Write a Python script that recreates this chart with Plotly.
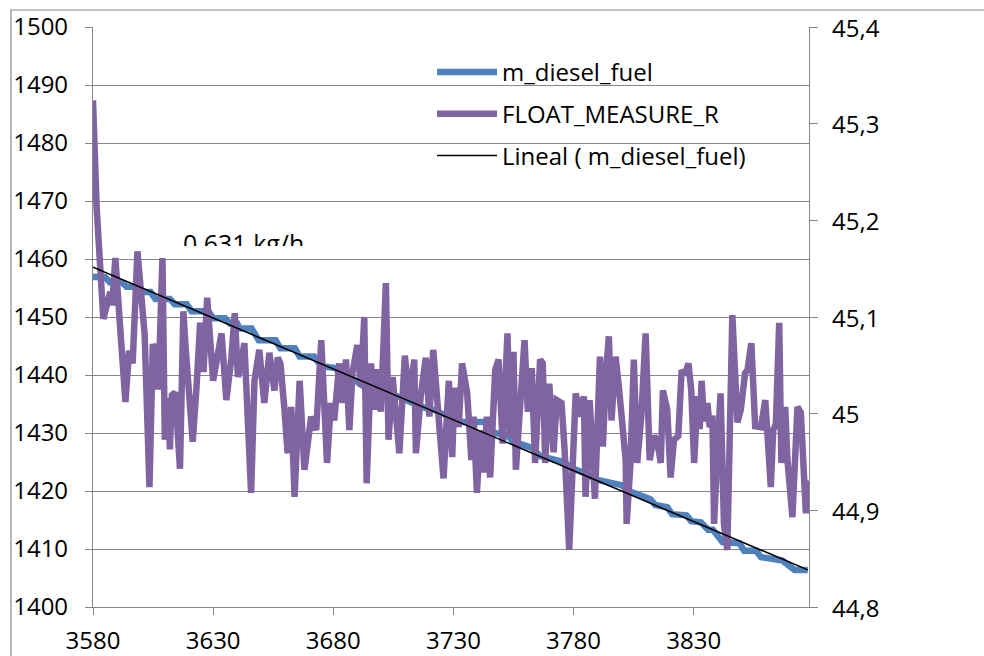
import plotly.graph_objects as go

# ---- data ----
diesel_x = [3580, 3585, 3587, 3592, 3594, 3598, 3600, 3604, 3606, 3612, 3614, 3619,
            3621, 3628, 3630, 3635, 3637, 3640, 3641, 3646, 3649, 3656, 3658, 3664,
            3666, 3672, 3675, 3681, 3683, 3689, 3692, 3698, 3705, 3710, 3713, 3719,
            3722, 3727, 3734, 3744, 3747, 3752, 3755, 3763, 3766, 3776, 3779, 3786,
            3789, 3800, 3803, 3812, 3814, 3819, 3821, 3827, 3829, 3833, 3836, 3838,
            3840, 3842, 3849, 3851, 3856, 3858, 3867, 3870, 3872, 3877.5]
m_diesel_fuel = [1456.9, 1456.9, 1456.0, 1456.0, 1455.2, 1455.2, 1454.3, 1454.3, 1453.1, 1453.1,
                 1452.2, 1452.2, 1451.0, 1451.0, 1449.8, 1449.8, 1448.9, 1448.9, 1448.0, 1448.0,
                 1446.0, 1446.0, 1444.6, 1444.6, 1443.2, 1443.2, 1441.5, 1441.2, 1440.0, 1439.1,
                 1438.2, 1437.6, 1436.6, 1435.6, 1435.2, 1434.2, 1434.0, 1433.0, 1431.9, 1431.9,
                 1430.0, 1429.7, 1428.5, 1427.4, 1426.0, 1425.0, 1424.0, 1422.8, 1422.0, 1421.0,
                 1420.0, 1418.6, 1417.6, 1417.2, 1416.0, 1415.8, 1414.8, 1414.6, 1413.3, 1413.3,
                 1412.0, 1411.2, 1411.0, 1409.7, 1409.7, 1408.6, 1408.0, 1407.0, 1406.4, 1406.4]

float_x = [3580, 3581.5, 3584.3, 3585.5, 3587.2, 3588, 3589.3, 3591, 3593.5, 3595,
           3596.5, 3598.5, 3600, 3601.5, 3603.5, 3604.9, 3606, 3607.2, 3608.9, 3609.9,
           3611.3, 3612, 3612.8, 3614.2, 3616.2, 3617.6, 3618.5, 3619.7, 3621.5, 3623.1,
           3624.6, 3626, 3627.5, 3630, 3631.5, 3633.5, 3635.5, 3637.6, 3639, 3640.3,
           3641.5, 3643, 3645.8, 3647.2, 3649.2, 3651.3, 3653.4, 3655.5, 3656.9, 3658,
           3659.6, 3661, 3662.5, 3663.9, 3666, 3668, 3670.8, 3672.9, 3675, 3677.4,
           3679, 3680.4, 3682.5, 3683.9, 3685.3, 3686.7, 3688, 3690, 3691.5, 3692.9,
           3693.9, 3695.7, 3697, 3698.5, 3699.8, 3701.9, 3703, 3704.7, 3707.5, 3709.8,
           3711.7, 3713.7, 3714.4, 3716.4, 3718.5, 3720, 3721.6, 3723.4, 3725.9, 3727.6,
           3728.1, 3729.5, 3730.5, 3732.2, 3733.6, 3735.7, 3737.5, 3738.4, 3739.8, 3741.2,
           3742.5, 3743.9, 3745.3, 3747.4, 3748.8, 3750.5, 3752.5, 3753.6, 3755, 3756,
           3757.8, 3759.6, 3761, 3762.6, 3764, 3766.1, 3767.2, 3768.2, 3769.9, 3771.7,
           3773, 3775, 3776.3, 3778.2, 3780.9, 3783, 3784.3, 3785, 3786.7, 3788.9,
           3791, 3792.2, 3793.6, 3794.7, 3795.8, 3797.5, 3798.9, 3801.7, 3802.1, 3803.7,
           3805.1, 3806.5, 3808.2, 3810, 3811.7, 3813.5, 3814.9, 3816.3, 3817.2, 3819,
           3820.4, 3821.8, 3823.6, 3825, 3826.4, 3827.8, 3829, 3830.2, 3831.6, 3832.5,
           3833.3, 3834.3, 3835.7, 3836.7, 3837.8, 3838.5, 3839.9, 3841.2, 3842.6, 3844,
           3846.1, 3848.2, 3849.6, 3851.4, 3852.4, 3854, 3855.6, 3858, 3859.8, 3862.1,
           3863.1, 3864.2, 3865.6, 3866.5, 3868.1, 3869, 3871.1, 3873.2, 3874.6, 3876.7,
           3877.8]
float_measure_r = [45.324, 45.214, 45.098, 45.112, 45.126, 45.112, 45.161, 45.100, 45.012, 45.065,
                   45.052, 45.168, 45.130, 45.082, 44.924, 45.072, 45.064, 45.025, 45.161, 44.973,
                   45.016, 44.963, 45.019, 45.022, 44.943, 45.106, 45.070, 45.019, 44.971, 45.028,
                   45.094, 45.043, 45.120, 45.034, 45.052, 45.083, 45.014, 45.058, 45.104, 45.038,
                   45.049, 45.073, 44.918, 45.034, 45.066, 45.011, 45.063, 45.024, 45.058, 45.052,
                   45.007, 44.959, 45.007, 44.914, 45.034, 44.942, 44.997, 44.983, 45.076, 44.949,
                   45.011, 44.993, 45.052, 45.011, 45.056, 44.983, 45.042, 45.071, 45.028, 45.100,
                   44.928, 45.052, 45.004, 45.046, 45.002, 45.135, 44.973, 45.038, 44.959, 45.060,
                   45.014, 45.056, 44.959, 45.018, 45.058, 44.997, 45.066, 45.004, 44.933, 45.011,
                   45.034, 44.955, 45.027, 44.986, 45.052, 45.022, 44.952, 44.997, 44.918, 44.983,
                   44.939, 44.997, 44.934, 45.045, 45.056, 44.969, 45.083, 44.976, 45.064, 44.942,
                   45.011, 45.076, 45.002, 45.047, 44.949, 45.056, 45.052, 44.949, 45.031, 44.960,
                   45.014, 45.011, 44.962, 44.859, 45.021, 44.997, 45.018, 44.914, 45.014, 44.912,
                   45.059, 44.966, 45.045, 45.080, 44.993, 45.059, 45.027, 44.952, 44.886, 44.949,
                   45.056, 44.949, 44.997, 45.083, 44.952, 44.977, 44.971, 44.949, 45.024, 45.004,
                   44.934, 44.973, 44.977, 45.045, 45.040, 45.052, 45.024, 44.949, 45.018, 44.984,
                   45.034, 44.992, 45.011, 44.986, 44.998, 44.886, 44.962, 45.021, 44.886, 44.859,
                   45.102, 44.991, 45.004, 45.042, 45.045, 45.073, 44.987, 44.986, 45.014, 44.924,
                   44.983, 44.989, 45.094, 44.949, 45.007, 44.953, 44.893, 45.007, 45.001, 44.897,
                   44.931]

trend_x = [3580, 3877.5]
trend_y = [1458.6, 1406.4]

x_ticks = [3580, 3630, 3680, 3730, 3780, 3830]
left_ticks = [1400, 1410, 1420, 1430, 1440, 1450, 1460, 1470, 1480, 1490, 1500]
right_tickvals = [44.8, 44.9, 45.0, 45.1, 45.2, 45.3, 45.4]
right_ticktext = ["44,8", "44,9", "45", "45,1", "45,2", "45,3", "45,4"]

names = ["m_diesel_fuel", "FLOAT_MEASURE_R", "Lineal ( m_diesel_fuel)"]
slope_label = "0,631 kg/h"

# ---- styling ----
FONT = "Open Sans"
GRID = "#878787"
BLUE = "#4F81BD"
PURPLE = "#8064A2"
TICKFONT = dict(family=FONT, size=24, color="black")

fig = go.Figure()
fig.add_trace(go.Scatter(x=diesel_x, y=m_diesel_fuel, mode="lines", name=names[0],
                         line=dict(color=BLUE, width=6.5), yaxis="y", legendgroup="a"))
fig.add_trace(go.Scatter(x=float_x, y=float_measure_r, mode="lines", name=names[1],
                         line=dict(color=PURPLE, width=6.5), yaxis="y2", legendgroup="b"))
fig.add_trace(go.Scatter(x=trend_x, y=trend_y, mode="lines", name=names[2],
                         line=dict(color="black", width=1.6), yaxis="y3", legendgroup="c"))

W, H = 984, 656
L, R, T, B = 93, 175, 27, 49
pw, ph = W - L - R, H - T - B

def px2paper_x(px):
    return (px - L) / pw

def px2paper_y(py):
    return (H - B - py) / ph

fig.update_layout(
    width=W, height=H,
    margin=dict(l=L, r=R, t=T, b=B, pad=0),
    paper_bgcolor="white", plot_bgcolor="white",
    font=dict(family=FONT, size=22, color="black"),
    separators=", ",
    showlegend=True,
    legend=dict(x=px2paper_x(432), y=px2paper_y(50), xanchor="left", yanchor="top",
                bgcolor="rgba(0,0,0,0)", font=dict(size=24, family=FONT),
                tracegroupgap=7.5, traceorder="grouped", itemwidth=60),
    xaxis=dict(range=[3580, 3878], tickvals=x_ticks, showgrid=False, zeroline=False,
               showline=True, linecolor=GRID, linewidth=1.2, ticks="outside", ticklen=7,
               tickcolor=GRID, ticklabelstandoff=5, automargin=False, tickfont=TICKFONT),
    yaxis=dict(range=[1400, 1500], tickvals=left_ticks, showgrid=True, gridcolor=GRID,
               gridwidth=1.2, zeroline=False, showline=True, linecolor=GRID, linewidth=1.2,
               ticks="outside", ticklen=7, tickcolor=GRID, ticklabelstandoff=12,
               automargin=False, tickfont=TICKFONT),
    # right axis: line and tick marks; its labels are placed below on the same y2 scale
    yaxis2=dict(range=[44.8, 45.4], tickvals=right_tickvals, showticklabels=False,
                overlaying="y", side="right", showgrid=False, zeroline=False,
                showline=True, linecolor=GRID, linewidth=1.2, ticks="outside", ticklen=8,
                tickcolor=GRID, automargin=False),
    yaxis3=dict(range=[1400, 1500], overlaying="y", visible=False),
)

# right-axis tick labels, positioned by the y2 scale
for val, txt in zip(right_tickvals, right_ticktext):
    fig.add_annotation(xref="paper", yref="y2", x=px2paper_x(831), y=val,
                       xanchor="left", yanchor="middle", text=txt, showarrow=False,
                       font=TICKFONT, borderpad=0)

# outer chart-area border (extends beyond the visible window at right and bottom)
fig.add_shape(type="rect", xref="paper", yref="paper",
              x0=px2paper_x(11), x1=px2paper_x(1100), y0=px2paper_y(700), y1=px2paper_y(10),
              line=dict(color=GRID, width=1.2), fillcolor="rgba(0,0,0,0)", layer="below")

# clipped trendline label
fig.add_annotation(xref="paper", yref="paper", x=px2paper_x(243), y=px2paper_y(225),
                   xanchor="center", yanchor="top", text=slope_label, showarrow=False,
                   font=dict(size=25, family=FONT), height=20, valign="top", borderpad=0)

fig.write_html("out.html")
